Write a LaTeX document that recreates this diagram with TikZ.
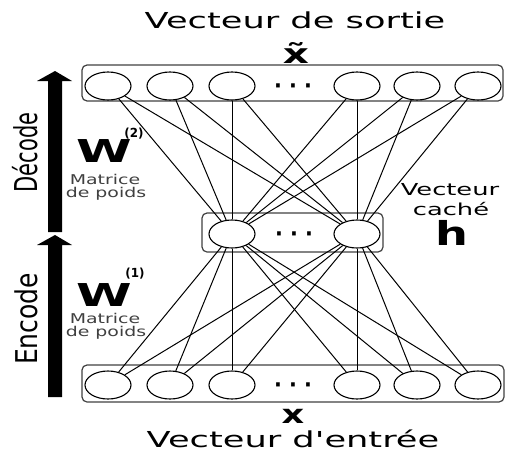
\documentclass[tikz,border=0pt]{standalone}
\usepackage{fontspec}
\setmainfont{DejaVu Sans}
\usetikzlibrary{shapes.geometric}
% horizontally stretched text: size, x-stretch, text
\newcommand{\stxt}[3]{{\fontsize{#1}{#1}\selectfont\scalebox{#2}[1]{#3}}}
% vertical (rotated) text, stretched across its letter height
\newcommand{\vtxt}[3]{{\fontsize{#1}{#1}\selectfont\scalebox{#2}[1]{\rotatebox{90}{#3}}}}

\begin{document}
\begin{tikzpicture}[x=1pt,y=-1pt,
  neuron/.style={ellipse,draw,line width=1.1pt,fill=white,
                 minimum width=46pt,minimum height=28pt,inner sep=0pt},
  layerbox/.style={draw=black!75,line width=1.2pt,rounded corners=5pt},
  link/.style={line width=1pt},
  lbl/.style={inner sep=0pt,anchor=base},
  vlbl/.style={inner sep=0pt,anchor=east},
  subtxt/.style={lbl,text=black!75}]
\useasboundingbox (0,0) rectangle (505,455);

% layer frames
\draw[layerbox] (82,65) rectangle (503,101);
\draw[layerbox] (202,213) rectangle (383,252);
\draw[layerbox] (82,365) rectangle (504,402);

% neurons: output (t), hidden (h), input (b)
\foreach \n/\x in {1/108,2/170,3/232,4/357,5/417,6/478} {
  \node[neuron] (t\n) at (\x,86) {};
  \node[neuron] (b\n) at (\x,385) {};
}
\node[neuron] (h1) at (232,234) {};
\node[neuron] (h2) at (357,234) {};

% full connections between layers
\foreach \i in {1,...,6} \foreach \j in {1,2} {
  \draw[link] (t\i) -- (h\j);
  \draw[link] (h\j) -- (b\i);
}

% ellipsis dots inside the layers
\node[lbl] (tdots) at (293,93) {\stxt{22}{0.94}{\bfseries · · ·}};
\node[lbl] (hdots) at (294,241) {\stxt{22}{0.94}{\bfseries · · ·}};
\node[lbl] (bdots) at (293,392) {\stxt{22}{0.94}{\bfseries · · ·}};

% encode / decode arrows
\fill (48,232) -- (48,81) -- (37,81) -- (55,71) -- (72,81) -- (62,81) -- (62,232) -- cycle;
\fill (48,397) -- (48,245) -- (37,245) -- (55,235) -- (72,245) -- (62,245) -- (62,397) -- cycle;
\node[vlbl] (dec) at (38,152.5) {\vtxt{21}{1.5}{Décode}};
\node[vlbl] (enc) at (38,319) {\vtxt{25}{1.2}{Encode}};

% titles
\node[lbl] (out) at (295,28) {\stxt{22}{1.6}{Vecteur de sortie}};
\node[lbl] (xt) at (296,63) {\stxt{27}{1.5}{\bfseries\~{x}}};
\node[lbl] (xin) at (293,423) {\stxt{26}{1.35}{\bfseries x}};
\node[lbl] (in) at (293,447) {\stxt{22}{1.6}{Vecteur d\textquotesingle entrée}};

% hidden vector label
\node[lbl] (hv1) at (450,195) {\stxt{16.5}{1.56}{Vecteur}};
\node[lbl] (hv2) at (451,215) {\stxt{16.5}{1.56}{caché}};
\node[lbl] (hv3) at (452,245) {\stxt{33}{1.4}{\bfseries h}};

% weight matrices
\node[lbl] (w2) at (104,162) {\stxt{31.5}{1.6}{\bfseries W}};
\node[lbl] (w2s) at (134,137) {\stxt{12.5}{0.95}{\bfseries (2)}};
\node[subtxt] (w2a) at (105,184) {\stxt{13.5}{1.4}{Matrice}};
\node[subtxt] (w2b) at (106,197) {\stxt{13.5}{1.4}{de poids}};

\node[lbl] (w1) at (104,306) {\stxt{31.5}{1.6}{\bfseries W}};
\node[lbl] (w1s) at (135,277) {\stxt{12.5}{0.95}{\bfseries (1)}};
\node[subtxt] (w1a) at (105,323) {\stxt{13.5}{1.4}{Matrice}};
\node[subtxt] (w1b) at (106,336) {\stxt{13.5}{1.4}{de poids}};
\end{tikzpicture}
\end{document}
